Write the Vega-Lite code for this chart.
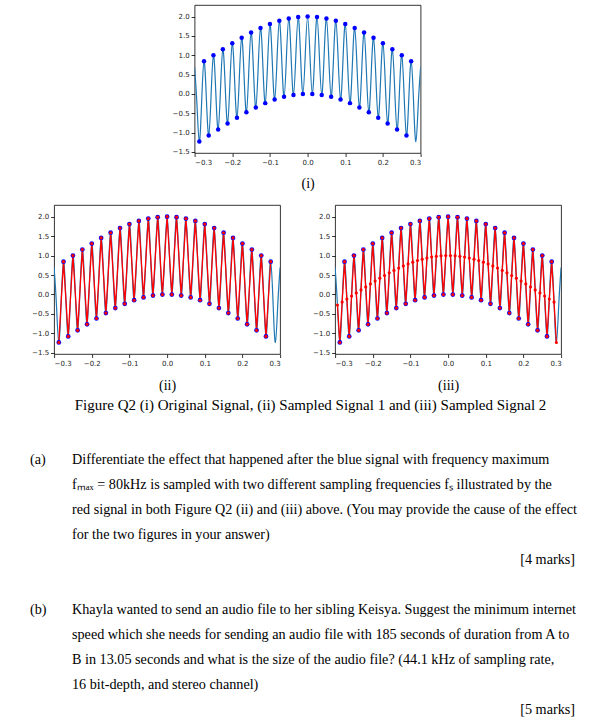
{
  "$schema": "https://vega.github.io/schema/vega-lite/v6.json",
  "padding": {"left": 18, "top": 4, "right": 5, "bottom": 0},
  "background": "white",
  "config": {
    "view": {"stroke": "#000", "strokeWidth": 0.8},
    "axis": {"grid": false, "domain": false, "tickColor": "#000", "tickSize": 3.5, "tickWidth": 0.8, "labelFont": "DejaVu Sans", "labelFontSize": 7, "labelColor": "#262626", "labelPadding": 2, "titleFont": "Liberation Serif", "titleFontSize": 14, "titleFontWeight": "normal", "titleColor": "#000"},
    "title": {"font": "Liberation Serif", "fontSize": 15, "fontWeight": "normal", "color": "#000"}
  },
  "datasets": {
    "sig": [
      {"t": -0.3, "y": 0.691, "e": 1},
      {"t": -0.29375, "y": -0.2714, "e": 0},
      {"t": -0.2875, "y": -1.2335, "e": 1},
      {"t": -0.28125, "y": -0.1951, "e": 0},
      {"t": -0.275, "y": 0.8436, "e": 1},
      {"t": -0.26875, "y": -0.1175, "e": 0},
      {"t": -0.2625, "y": -1.0785, "e": 1},
      {"t": -0.25625, "y": -0.0393, "e": 0},
      {"t": -0.25, "y": 1.0, "e": 1},
      {"t": -0.24375, "y": 0.0393, "e": 0},
      {"t": -0.2375, "y": -0.9215, "e": 1},
      {"t": -0.23125, "y": 0.1175, "e": 0},
      {"t": -0.225, "y": 1.1564, "e": 1},
      {"t": -0.21875, "y": 0.1951, "e": 0},
      {"t": -0.2125, "y": -0.7666, "e": 1},
      {"t": -0.20625, "y": 0.2714, "e": 0},
      {"t": -0.2, "y": 1.309, "e": 1},
      {"t": -0.19375, "y": 0.3461, "e": 0},
      {"t": -0.1875, "y": -0.6173, "e": 1},
      {"t": -0.18125, "y": 0.4187, "e": 0},
      {"t": -0.175, "y": 1.454, "e": 1},
      {"t": -0.16875, "y": 0.4886, "e": 0},
      {"t": -0.1625, "y": -0.4775, "e": 1},
      {"t": -0.15625, "y": 0.5556, "e": 0},
      {"t": -0.15, "y": 1.5878, "e": 1},
      {"t": -0.14375, "y": 0.6191, "e": 0},
      {"t": -0.1375, "y": -0.3506, "e": 1},
      {"t": -0.13125, "y": 0.6788, "e": 0},
      {"t": -0.125, "y": 1.7071, "e": 1},
      {"t": -0.11875, "y": 0.7343, "e": 0},
      {"t": -0.1125, "y": -0.2396, "e": 1},
      {"t": -0.10625, "y": 0.7853, "e": 0},
      {"t": -0.1, "y": 1.809, "e": 1},
      {"t": -0.09375, "y": 0.8315, "e": 0},
      {"t": -0.0875, "y": -0.1474, "e": 1},
      {"t": -0.08125, "y": 0.8725, "e": 0},
      {"t": -0.075, "y": 1.891, "e": 1},
      {"t": -0.06875, "y": 0.9081, "e": 0},
      {"t": -0.0625, "y": -0.0761, "e": 1},
      {"t": -0.05625, "y": 0.9382, "e": 0},
      {"t": -0.05, "y": 1.9511, "e": 1},
      {"t": -0.04375, "y": 0.9625, "e": 0},
      {"t": -0.0375, "y": -0.0276, "e": 1},
      {"t": -0.03125, "y": 0.9808, "e": 0},
      {"t": -0.025, "y": 1.9877, "e": 1},
      {"t": -0.01875, "y": 0.9931, "e": 0},
      {"t": -0.0125, "y": -0.0031, "e": 1},
      {"t": -0.00625, "y": 0.9992, "e": 0},
      {"t": 0, "y": 2.0, "e": 1},
      {"t": 0.00625, "y": 0.9992, "e": 0},
      {"t": 0.0125, "y": -0.0031, "e": 1},
      {"t": 0.01875, "y": 0.9931, "e": 0},
      {"t": 0.025, "y": 1.9877, "e": 1},
      {"t": 0.03125, "y": 0.9808, "e": 0},
      {"t": 0.0375, "y": -0.0276, "e": 1},
      {"t": 0.04375, "y": 0.9625, "e": 0},
      {"t": 0.05, "y": 1.9511, "e": 1},
      {"t": 0.05625, "y": 0.9382, "e": 0},
      {"t": 0.0625, "y": -0.0761, "e": 1},
      {"t": 0.06875, "y": 0.9081, "e": 0},
      {"t": 0.075, "y": 1.891, "e": 1},
      {"t": 0.08125, "y": 0.8725, "e": 0},
      {"t": 0.0875, "y": -0.1474, "e": 1},
      {"t": 0.09375, "y": 0.8315, "e": 0},
      {"t": 0.1, "y": 1.809, "e": 1},
      {"t": 0.10625, "y": 0.7853, "e": 0},
      {"t": 0.1125, "y": -0.2396, "e": 1},
      {"t": 0.11875, "y": 0.7343, "e": 0},
      {"t": 0.125, "y": 1.7071, "e": 1},
      {"t": 0.13125, "y": 0.6788, "e": 0},
      {"t": 0.1375, "y": -0.3506, "e": 1},
      {"t": 0.14375, "y": 0.6191, "e": 0},
      {"t": 0.15, "y": 1.5878, "e": 1},
      {"t": 0.15625, "y": 0.5556, "e": 0},
      {"t": 0.1625, "y": -0.4775, "e": 1},
      {"t": 0.16875, "y": 0.4886, "e": 0},
      {"t": 0.175, "y": 1.454, "e": 1},
      {"t": 0.18125, "y": 0.4187, "e": 0},
      {"t": 0.1875, "y": -0.6173, "e": 1},
      {"t": 0.19375, "y": 0.3461, "e": 0},
      {"t": 0.2, "y": 1.309, "e": 1},
      {"t": 0.20625, "y": 0.2714, "e": 0},
      {"t": 0.2125, "y": -0.7666, "e": 1},
      {"t": 0.21875, "y": 0.1951, "e": 0},
      {"t": 0.225, "y": 1.1564, "e": 1},
      {"t": 0.23125, "y": 0.1175, "e": 0},
      {"t": 0.2375, "y": -0.9215, "e": 1},
      {"t": 0.24375, "y": 0.0393, "e": 0},
      {"t": 0.25, "y": 1.0, "e": 1},
      {"t": 0.25625, "y": -0.0393, "e": 0},
      {"t": 0.2625, "y": -1.0785, "e": 1},
      {"t": 0.26875, "y": -0.1175, "e": 0},
      {"t": 0.275, "y": 0.8436, "e": 1},
      {"t": 0.28125, "y": -0.1951, "e": 0},
      {"t": 0.2875, "y": -1.2335, "e": 1},
      {"t": 0.29375, "y": -0.2714, "e": 0},
      {"t": 0.3, "y": 0.691, "e": 1}
    ],
    "txt": [
      {"line": 0, "col": "label", "text": "(a)"},
      {"line": 0, "col": "body", "text": "Differentiate the effect that happened after the blue signal with frequency maximum"},
      {"line": 1, "col": "body", "text": "fₘₐₓ = 80kHz is sampled with two different sampling frequencies fₛ illustrated by the"},
      {"line": 2, "col": "body", "text": "red signal in both Figure Q2 (ii) and (iii) above. (You may provide the cause of the effect"},
      {"line": 3, "col": "body", "text": "for the two figures in your answer)"},
      {"line": 4, "col": "marks", "text": "[4 marks]"},
      {"line": 6, "col": "label", "text": "(b)"},
      {"line": 6, "col": "body", "text": "Khayla wanted to send an audio file to her sibling Keisya. Suggest the minimum internet"},
      {"line": 7, "col": "body", "text": "speed which she needs for sending an audio file with 185 seconds of duration from A to"},
      {"line": 8, "col": "body", "text": "B in 13.05 seconds and what is the size of the audio file? (44.1 kHz of sampling rate,"},
      {"line": 9, "col": "body", "text": "16 bit-depth, and stereo channel)"},
      {"line": 10, "col": "marks", "text": "[5 marks]"}
    ]
  },
  "center": true,
  "spacing": 13,
  "vconcat": [
    {
      "width": 226,
      "height": 148,
      "data": {"name": "sig"},
      "encoding": {
        "x": {"field": "t", "type": "quantitative", "scale": {"domain": [-0.3, 0.3], "nice": false, "zero": false}, "axis": {"values": [-0.3, -0.2, -0.1, 0, 0.1, 0.2, 0.3], "format": ".1f", "title": "(i)", "titlePadding": 11}},
        "y": {"field": "y", "type": "quantitative", "scale": {"domain": [-1.53, 2.3], "nice": false, "zero": false}, "axis": {"values": [-1.5, -1, -0.5, 0, 0.5, 1, 1.5, 2], "format": ".1f", "title": null}}
      },
      "layer": [
        {"mark": {"type": "line", "color": "#1f77b4", "strokeWidth": 1.2, "interpolate": "natural", "clip": true}},
        {"transform": [{"filter": {"field": "t", "range": [-0.2875, 0.275]}}, {"filter": {"field": "e", "equal": 1}}],
         "mark": {"type": "circle", "color": "#0000ff", "size": 20, "opacity": 1}}
      ]
    },
    {
      "spacing": 31,
      "title": {"text": "Figure Q2 (i) Original Signal, (ii) Sampled Signal 1 and (iii) Sampled Signal 2", "orient": "bottom", "anchor": "middle", "offset": 5, "dx": 14},
      "hconcat": [
        {
          "width": 226,
          "height": 149,
          "data": {"name": "sig"},
          "encoding": {
            "x": {"field": "t", "type": "quantitative", "scale": {"domain": [-0.3, 0.3], "nice": false, "zero": false}, "axis": {"values": [-0.3, -0.2, -0.1, 0, 0.1, 0.2, 0.3], "format": ".1f", "title": "(ii)", "titlePadding": 12}},
            "y": {"field": "y", "type": "quantitative", "scale": {"domain": [-1.53, 2.3], "nice": false, "zero": false}, "axis": {"values": [-1.5, -1, -0.5, 0, 0.5, 1, 1.5, 2], "format": ".1f", "title": null}}
          },
          "layer": [
            {"mark": {"type": "line", "color": "#1f77b4", "strokeWidth": 1.2, "interpolate": "natural", "clip": true}},
            {"transform": [{"filter": {"field": "t", "range": [-0.2875, 0.275]}}, {"filter": {"field": "e", "equal": 1}}],
             "mark": {"type": "line", "color": "#ff0000", "strokeWidth": 1.3}},
            {"transform": [{"filter": {"field": "t", "range": [-0.2875, 0.275]}}, {"filter": {"field": "e", "equal": 1}}],
             "mark": {"type": "circle", "color": "#0000ff", "size": 22, "opacity": 1}},
            {"transform": [{"filter": {"field": "t", "range": [-0.2875, 0.275]}}, {"filter": {"field": "e", "equal": 1}}],
             "mark": {"type": "circle", "color": "#ff0000", "size": 10, "opacity": 1}}
          ]
        },
        {
          "width": 226,
          "height": 149,
          "data": {"name": "sig"},
          "encoding": {
            "x": {"field": "t", "type": "quantitative", "scale": {"domain": [-0.3, 0.3], "nice": false, "zero": false}, "axis": {"values": [-0.3, -0.2, -0.1, 0, 0.1, 0.2, 0.3], "format": ".1f", "title": "(iii)", "titlePadding": 12}},
            "y": {"field": "y", "type": "quantitative", "scale": {"domain": [-1.53, 2.3], "nice": false, "zero": false}, "axis": {"values": [-1.5, -1, -0.5, 0, 0.5, 1, 1.5, 2], "format": ".1f", "title": null}}
          },
          "layer": [
            {"mark": {"type": "line", "color": "#1f77b4", "strokeWidth": 1.2, "interpolate": "natural", "clip": true}},
            {"transform": [{"filter": {"field": "t", "range": [-0.29375, 0.2875]}}],
             "mark": {"type": "line", "color": "#ff0000", "strokeWidth": 1.3}},
            {"transform": [{"filter": {"field": "t", "range": [-0.2875, 0.275]}}, {"filter": {"field": "e", "equal": 1}}],
             "mark": {"type": "circle", "color": "#0000ff", "size": 22, "opacity": 1}},
            {"transform": [{"filter": {"field": "t", "range": [-0.29375, 0.2875]}}],
             "mark": {"type": "circle", "color": "#ff0000", "size": 10, "opacity": 1}}
          ]
        }
      ]
    },
    {
      "width": 580,
      "height": 290,
      "view": {"stroke": null},
      "data": {"name": "txt"},
      "resolve": {"scale": {"x": "independent"}},
      "layer": [
        {
          "transform": [{"filter": {"field": "col", "oneOf": ["label", "body"]}}],
          "mark": {"type": "text", "align": "left", "baseline": "middle", "font": "Liberation Serif", "fontSize": 14.2, "color": "#000"},
          "encoding": {
            "x": {"field": "col", "type": "nominal", "scale": {"type": "point", "domain": ["label", "body"], "range": [12, 54], "padding": 0}, "axis": null},
            "y": {"field": "line", "type": "quantitative", "scale": {"domain": [-1.36, 10.24], "range": [0, 290]}, "axis": null},
            "text": {"field": "text"}
          }
        },
        {
          "transform": [{"filter": {"field": "col", "equal": "marks"}}],
          "mark": {"type": "text", "align": "right", "baseline": "middle", "font": "Liberation Serif", "fontSize": 14.2, "color": "#000"},
          "encoding": {
            "x": {"field": "col", "type": "nominal", "scale": {"type": "point", "domain": ["marks"], "range": [557, 557], "padding": 0}, "axis": null},
            "y": {"field": "line", "type": "quantitative", "scale": {"domain": [-1.36, 10.24], "range": [0, 290]}, "axis": null},
            "text": {"field": "text"}
          }
        }
      ]
    }
  ]
}
